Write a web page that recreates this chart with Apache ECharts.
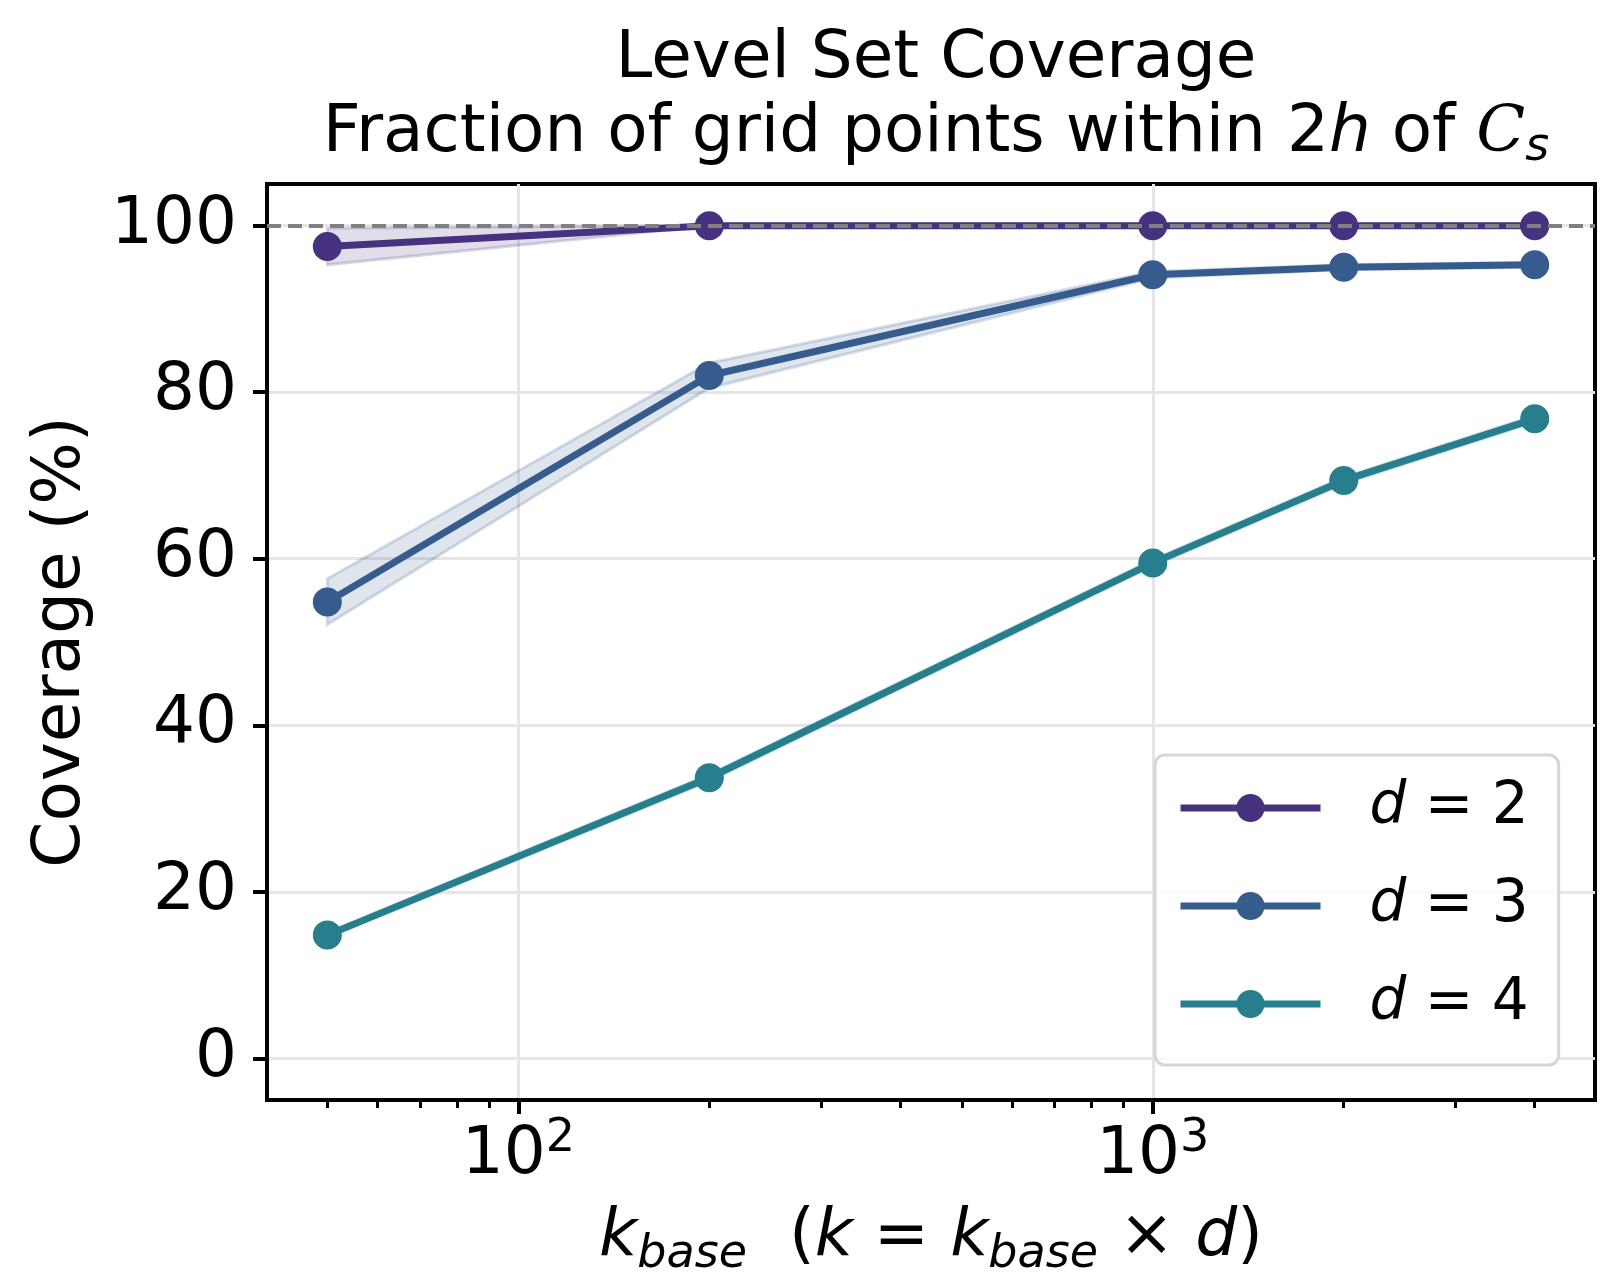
<!DOCTYPE html>
<html>
<head>
<meta charset="utf-8">
<script src="https://cdn.jsdelivr.net/npm/echarts@6/dist/echarts.min.js"></script>
<style>
  html, body { margin: 0; padding: 0; background: #fff; }
  #chart { width: 1624px; height: 1276px; }
</style>
</head>
<body>
<div id="chart"></div>
<script>
// k_base values on the log x axis
const kBase = [50, 200, 1000, 2000, 4000];
const dims = [2, 3, 4];

// mean coverage (%) per dimension
const cov2 = [97.5, 100, 100, 100, 100];
const cov3 = [54.8, 82.0, 94.1, 95.0, 95.3];
const cov4 = [14.8, 33.7, 59.5, 69.4, 76.8];

// shaded band (lower / upper)
const lo2 = [95.3, 100, 100, 100, 100];
const hi2 = [99.7, 100, 100, 100, 100];
const lo3 = [52.1, 80.5, 93.7, 94.7, 95.0];
const hi3 = [57.6, 83.5, 94.5, 95.3, 95.6];
const lo4 = [14.5, 33.3, 59.1, 69.0, 76.4];
const hi4 = [15.1, 34.1, 59.9, 69.8, 77.2];

const yTicks = [0, 20, 40, 60, 80, 100];
const xMajor = [100, 1000];
const xMinor = [50, 60, 70, 80, 90, 200, 300, 400, 500, 600, 700, 800, 900, 2000, 3000, 4000];

const colors = ['#46327e', '#365c8d', '#277f8e'];
const FONT = 'DejaVu Sans';

function rgba(hex, a) {
  const n = parseInt(hex.slice(1), 16);
  return 'rgba(' + (n >> 16) + ',' + ((n >> 8) & 255) + ',' + (n & 255) + ',' + a + ')';
}

function band(lo, hi, color) {
  return {
    type: 'custom',
    silent: true,
    z: 1,
    data: kBase.map((x, i) => [x, lo[i], hi[i]]),
    encode: { x: 0, y: [1, 2] },
    renderItem: function (params, api) {
      if (params.dataIndex !== 0) return;
      const up = kBase.map((x, i) => api.coord([x, hi[i]]));
      const dn = kBase.map((x, i) => api.coord([x, lo[i]])).reverse();
      return {
        type: 'polygon',
        shape: { points: up.concat(dn) },
        style: { fill: rgba(color, 0.16), stroke: rgba(color, 0.2), lineWidth: 3 }
      };
    }
  };
}

function line(name, vals, color) {
  return {
    type: 'line',
    name: name,
    z: 3,
    data: kBase.map((x, i) => [x, vals[i]]),
    symbol: 'circle',
    symbolSize: 29,
    showSymbol: true,
    itemStyle: { color: color },
    lineStyle: { color: color, width: 7 },
    emphasis: { disabled: true }
  };
}

const names = dims.map(d => 'd = ' + d);
const chart = echarts.init(document.getElementById('chart'));

chart.setOption({
  animation: false,
  backgroundColor: '#fff',
  textStyle: { fontFamily: FONT },
  title: {
    left: 931,
    top: 18,
    textAlign: 'center',
    text: 'Level Set Coverage\nFraction of grid points within 2{i|h} of {c|C}{s|s}',
    textStyle: {
      fontFamily: FONT, fontSize: 66, fontWeight: 'normal', color: '#000', lineHeight: 74,
      rich: {
        i: { fontFamily: FONT, fontSize: 66, fontStyle: 'italic', lineHeight: 74 },
        c: { fontFamily: 'DejaVu Serif', fontSize: 64, fontStyle: 'italic', lineHeight: 74 },
        s: { fontFamily: FONT, fontSize: 46, fontStyle: 'italic', lineHeight: 40, verticalAlign: 'bottom' }
      }
    }
  },
  legend: {
    orient: 'vertical',
    left: 1155,
    top: 755,
    data: names,
    itemWidth: 140,
    itemHeight: 35,
    itemGap: 28,
    padding: [18, 30, 26, 22],
    backgroundColor: 'rgba(255,255,255,0.8)',
    borderColor: '#d6d6d6',
    borderWidth: 3,
    borderRadius: 10,
    lineStyle: { width: 7 },
    formatter: function (n) { return '{i|d} = ' + n.split('= ')[1]; },
    textStyle: {
      fontFamily: FONT, fontSize: 58, color: '#000', lineHeight: 70, padding: [0, 0, 0, 44],
      rich: { i: { fontFamily: FONT, fontSize: 58, fontStyle: 'italic', lineHeight: 70 } }
    }
  },
  grid: {
    left: 267, top: 184, width: 1328, height: 916,
    outerBoundsMode: 'none',
    containLabel: false,
    show: true, borderColor: '#000', borderWidth: 4, backgroundColor: 'transparent'
  },
  xAxis: [{
    type: 'log',
    min: 40.17,
    max: 4978,
    position: 'bottom',
    axisLine: { show: true, onZero: false, lineStyle: { color: '#000', width: 4 } },
    axisTick: { show: true, customValues: xMajor, length: 14, lineStyle: { color: '#000', width: 4 } },
    axisLabel: {
      customValues: xMajor,
      margin: 16,
      color: '#000',
      formatter: function (v) { return '{b|10}{sup|' + Math.round(Math.log10(v)) + '}'; },
      rich: {
        b: { fontFamily: FONT, fontSize: 66, lineHeight: 80, color: '#000' },
        sup: { fontFamily: FONT, fontSize: 46, lineHeight: 46, verticalAlign: 'top', color: '#000' }
      }
    },
    splitLine: { show: true, lineStyle: { color: '#e6e6e6', width: 3 } },
    name: '{i|k}{sub|base}{n|  (}{i|k}{n| = }{i|k}{sub|base}{n| × }{i|d}{n|)}',
    nameLocation: 'middle',
    nameGap: 98,
    nameTextStyle: {
      color: '#000',
      rich: {
        i: { fontFamily: FONT, fontSize: 66, fontStyle: 'italic', lineHeight: 80 },
        n: { fontFamily: FONT, fontSize: 66, lineHeight: 80 },
        sub: { fontFamily: FONT, fontSize: 46, fontStyle: 'italic', lineHeight: 30, verticalAlign: 'bottom' }
      }
    }
  }, {
    type: 'log',
    min: 40.17,
    max: 4978,
    position: 'bottom',
    axisLine: { show: false, onZero: false },
    axisTick: { show: true, customValues: xMinor, length: 8, lineStyle: { color: '#000', width: 3 } },
    axisLabel: { show: false },
    splitLine: { show: false }
  }],
  yAxis: {
    type: 'value',
    min: -5,
    max: 105,
    axisLine: { show: true, onZero: false, lineStyle: { color: '#000', width: 4 } },
    axisTick: { show: true, customValues: yTicks, length: 14, lineStyle: { color: '#000', width: 4 } },
    axisLabel: { customValues: yTicks, fontFamily: FONT, fontSize: 66, color: '#000', margin: 30 },
    splitLine: { show: true, lineStyle: { color: '#e6e6e6', width: 3 } },
    name: 'Coverage (%)',
    nameLocation: 'middle',
    nameGap: 172,
    nameTextStyle: { fontFamily: FONT, fontSize: 66, color: '#000' }
  },
  series: [
    band(lo2, hi2, colors[0]),
    band(lo3, hi3, colors[1]),
    band(lo4, hi4, colors[2]),
    line(names[0], cov2, colors[0]),
    line(names[1], cov3, colors[1]),
    line(names[2], cov4, colors[2]),
    {
      type: 'line',
      z: 4,
      data: [],
      silent: true,
      markLine: {
        silent: true,
        symbol: 'none',
        label: { show: false },
        lineStyle: { color: '#808080', width: 4, type: [14, 7] },
        data: [{ yAxis: 100 }]
      }
    }
  ]
});
</script>
</body>
</html>
